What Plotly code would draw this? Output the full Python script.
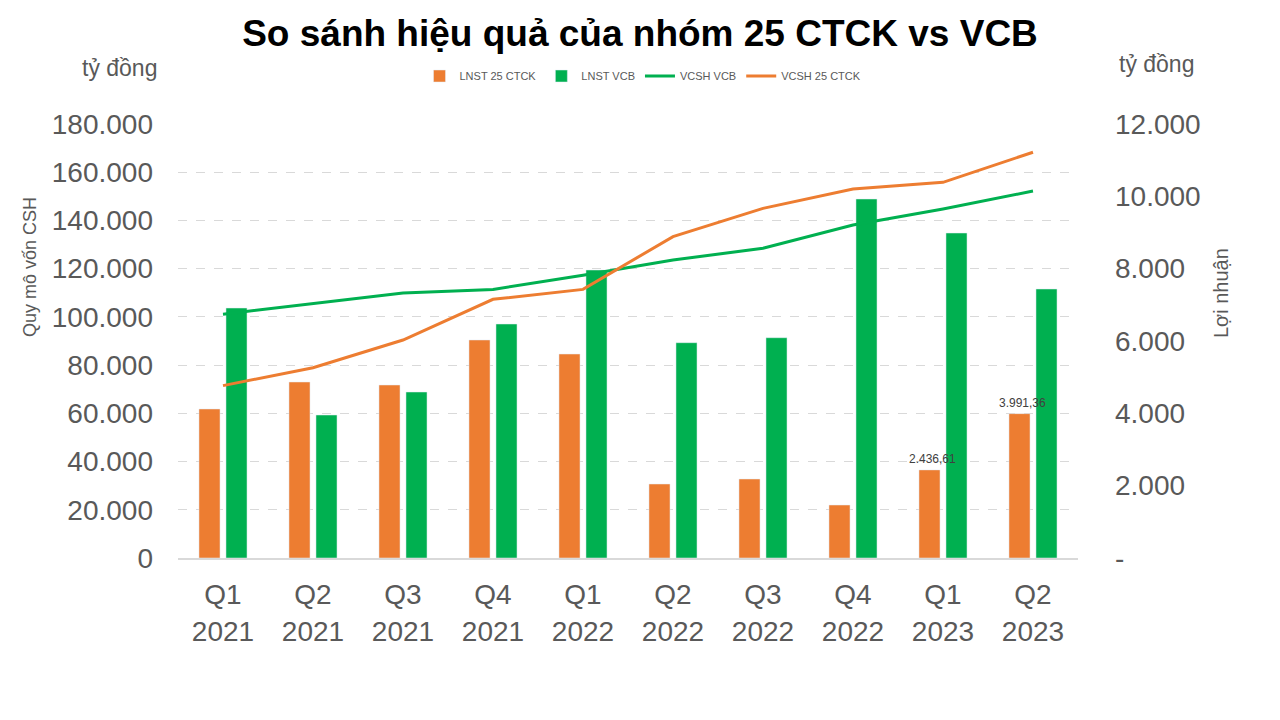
import plotly.graph_objects as go

quarters = ["Q1<br>2021", "Q2<br>2021", "Q3<br>2021", "Q4<br>2021", "Q1<br>2022",
            "Q2<br>2022", "Q3<br>2022", "Q4<br>2022", "Q1<br>2023", "Q2<br>2023"]

# loi nhuan sau thue (ty dong) - truc phai
lnst_ctck = [4120, 4866, 4783, 6028, 5640, 2046, 2184, 1465, 2436.61, 3991.36]
lnst_vcb = [6912, 3954, 4590, 6470, 7963, 5953, 6091, 9926, 8986, 7438]

# von chu so huu (ty dong) - truc trai
vcsh_vcb = [101100, 105600, 109900, 111400, 117300, 123600, 128450, 138100, 144750, 152200]
vcsh_ctck = [71500, 78900, 90400, 107300, 111400, 133300, 145000, 153000, 155800, 168300]

# chi gan nhan cho 2 quy cuoi
labelled = [8, 9]

left_ticks = [0, 20000, 40000, 60000, 80000, 100000, 120000, 140000, 160000, 180000]
right_ticks = [0, 2000, 4000, 6000, 8000, 10000, 12000]
right_ticktext = ["-", "2.000", "4.000", "6.000", "8.000", "10.000", "12.000"]

ORANGE = "#ED7D31"
GREEN = "#00B050"
GREY = "#595959"

W, H = 1280, 720
OFF = 8  # page body margin
L, R, T, B = 170, 210, 116, 170


def px(x, y):
    # page pixel -> paper coords
    x, y = x - OFF, y - OFF
    return (x - L) / (W - L - R), (H - B - y) / (H - T - B)


def vn_number(v):
    return f"{v:,.2f}".replace(",", " ").replace(".", ",").replace(" ", ".")


fig = go.Figure()

fig.add_trace(go.Bar(
    x=quarters, y=lnst_ctck, name="LNST 25 CTCK", marker_color=ORANGE, yaxis="y",
))
fig.add_trace(go.Bar(
    x=quarters, y=lnst_vcb, name="LNST VCB", marker_color=GREEN, yaxis="y",
))
fig.add_trace(go.Scatter(
    x=quarters, y=vcsh_vcb, name="VCSH VCB", mode="lines",
    line=dict(color=GREEN, width=3), yaxis="y2",
))
fig.add_trace(go.Scatter(
    x=quarters, y=vcsh_ctck, name="VCSH 25 CTCK", mode="lines",
    line=dict(color=ORANGE, width=3), yaxis="y2",
))

notes = [
    ("tỷ đồng", 119, 68, 23, 0),
    ("tỷ đồng", 1156, 64, 23, 0),
    ("Quy mô vốn CSH", 30, 267, 18, -90),
    ("Lợi nhuận", 1221, 293, 20, -90),
]
annotations = []
for text, x, y, size, angle in notes:
    ax, ay = px(x, y)
    annotations.append(dict(
        text=text, x=ax, y=ay, xref="paper", yref="paper", showarrow=False,
        xanchor="center", yanchor="middle", textangle=angle,
        font=dict(size=size, color=GREY),
    ))

# nhan du lieu tren cot cam (ve tren cung de de len cot xanh)
for i in labelled:
    annotations.append(dict(
        text=vn_number(lnst_ctck[i]), x=quarters[i], y=lnst_ctck[i],
        xref="x", yref="y", showarrow=False, xanchor="center", yanchor="bottom",
        xshift=-11, yshift=2, font=dict(size=12, color="#404040"),
    ))

fig.update_layout(
    width=W, height=H,
    margin=dict(l=L, r=R, t=T, b=B),
    paper_bgcolor="white", plot_bgcolor="white",
    separators=",.",
    font=dict(family="Liberation Sans, Arial, sans-serif", color=GREY),
    title=dict(
        text="<b>So sánh hiệu quả của nhóm 25 CTCK vs VCB</b>",
        x=(640 - OFF) / W, xref="container", xanchor="center",
        y=1 - (33 - OFF) / H, yref="container", yanchor="middle",
        font=dict(size=37, color="black"),
    ),
    barmode="group", bargap=0.4, bargroupgap=0.22,
    legend=dict(
        orientation="h", x=(643 - OFF) / W, xref="container", xanchor="center",
        y=1 - (76 - OFF) / H, yref="container", yanchor="middle",
        font=dict(size=11, color=GREY), itemwidth=30,
    ),
    xaxis=dict(
        showline=True, linecolor="#D9D9D9", linewidth=1.5,
        tickfont=dict(size=28, color=GREY), ticks="", ticklabelstandoff=11,
        showgrid=False,
    ),
    yaxis=dict(
        side="right", range=[0, 12000], tickvals=right_ticks, ticktext=right_ticktext,
        tickfont=dict(size=28, color=GREY), showgrid=False, zeroline=False,
        showline=False, ticklabelstandoff=36,
    ),
    yaxis2=dict(
        side="left", overlaying="y", range=[0, 180000], tickvals=left_ticks,
        tickformat=",d", tickfont=dict(size=28, color=GREY),
        showgrid=True, gridcolor="#D9D9D9", griddash="dash", gridwidth=1,
        zeroline=False, showline=False, ticklabelstandoff=24,
    ),
    annotations=annotations,
)

fig.write_html("out.html")
